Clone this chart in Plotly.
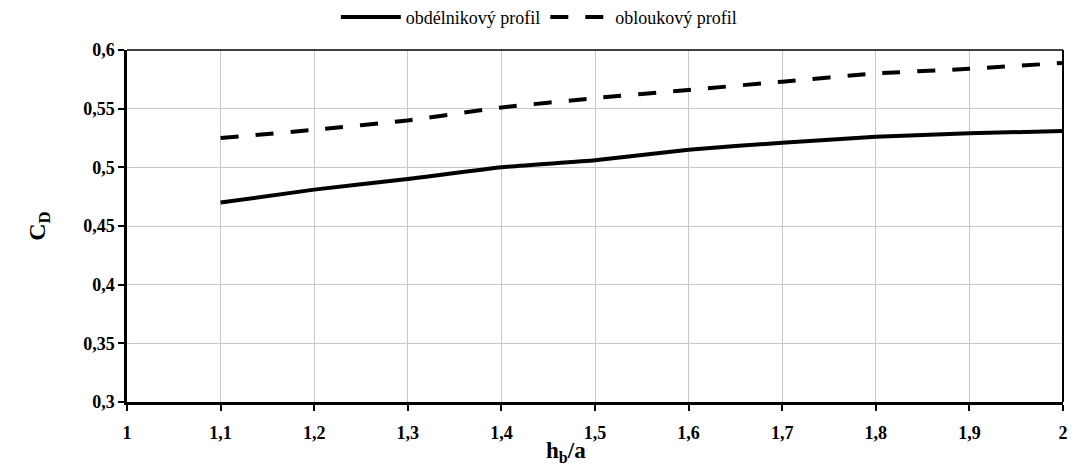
import plotly.graph_objects as go

x_vals = [1.1, 1.2, 1.3, 1.4, 1.5, 1.6, 1.7, 1.8, 1.9, 2.0]
obdelnikovy = [0.470, 0.481, 0.490, 0.500, 0.506, 0.515, 0.521, 0.526, 0.529, 0.531]
obloukovy = [0.525, 0.532, 0.540, 0.551, 0.559, 0.566, 0.573, 0.580, 0.584, 0.589]

x_ticks = [1, 1.1, 1.2, 1.3, 1.4, 1.5, 1.6, 1.7, 1.8, 1.9, 2]
x_tick_labels = ["1", "1,1", "1,2", "1,3", "1,4", "1,5", "1,6", "1,7", "1,8", "1,9", "2"]
y_ticks = [0.3, 0.35, 0.4, 0.45, 0.5, 0.55, 0.6]
y_tick_labels = ["0,3", "0,35", "0,4", "0,45", "0,5", "0,55", "0,6"]
x_title = "h<sub>b</sub>/a"
y_title = "C<sub>D</sub>"

font_family = "Liberation Serif"

fig = go.Figure()
fig.add_trace(go.Scatter(x=x_vals, y=obdelnikovy, mode="lines", name="obdélnikový profil",
                         line=dict(color="black", width=4, shape="spline", smoothing=0.4)))
fig.add_trace(go.Scatter(x=x_vals, y=obloukovy, mode="lines", name="obloukový profil",
                         line=dict(color="black", width=4, dash="18px,17px", shape="spline", smoothing=0.4)))

# the page body adds an 8px margin, so the figure is sized to fit inside it
fig.update_layout(
    width=1059, height=458,
    margin=dict(l=119, r=4, t=42, b=64, autoexpand=False),
    paper_bgcolor="white", plot_bgcolor="white",
    font=dict(family=font_family, color="black"),
    legend=dict(orientation="h", x=0.44, xanchor="center", y=1.04, yanchor="bottom",
                font=dict(size=18, family=font_family, color="black"), itemwidth=60,
                bgcolor="rgba(0,0,0,0)", tracegroupgap=0),
    showlegend=True,
)
fig.update_xaxes(range=[1, 2], tickvals=x_ticks, ticktext=x_tick_labels,
                 showgrid=True, gridcolor="#c8c8c8", gridwidth=1,
                 showline=True, linecolor="black", linewidth=2.5,
                 ticks="outside", ticklen=6, tickcolor="black", tickwidth=1.5,
                 ticklabelstandoff=7, ticklabeloverflow="allow",
                 tickfont=dict(size=18, family=font_family, weight="bold", color="black"),
                 zeroline=False, automargin=False)
fig.update_yaxes(range=[0.3, 0.6], tickvals=y_ticks, ticktext=y_tick_labels,
                 showgrid=True, gridcolor="#c8c8c8", gridwidth=1,
                 showline=True, linecolor="black", linewidth=2.5,
                 ticks="outside", ticklen=6, tickcolor="black", tickwidth=1.5,
                 tickfont=dict(size=18, family=font_family, weight="bold", color="black"),
                 title=dict(text=y_title, font=dict(size=24, family=font_family, weight="bold", color="black"), standoff=31),
                 zeroline=False, automargin=False)

# x-axis title placed as annotation below the tick labels
fig.add_annotation(text=x_title, xref="paper", yref="paper", x=0.469, y=-0.100,
                   xanchor="center", yanchor="top", showarrow=False, borderpad=0,
                   font=dict(size=23, family=font_family, weight="bold", color="black"))

# top and right frame lines
fig.add_shape(type="line", xref="paper", yref="paper", x0=0, x1=1, y0=1, y1=1,
              line=dict(color="black", width=1.5))
fig.add_shape(type="line", xref="paper", yref="paper", x0=1, x1=1, y0=0, y1=1,
              line=dict(color="black", width=2))

fig.write_html("out.html")
